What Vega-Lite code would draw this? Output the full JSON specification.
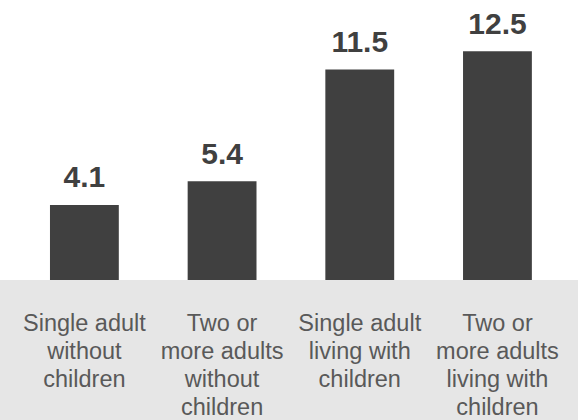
{
  "$schema": "https://vega.github.io/schema/vega-lite/v6.json",
  "width": 578,
  "height": 280,
  "autosize": {"type": "none"},
  "padding": {"left": 0, "top": 0, "right": 0, "bottom": 140},
  "background": "#e6e6e6",
  "config": {"view": {"fill": "white", "stroke": null}, "font": "Liberation Sans"},
  "data": {
    "values": [
      {"category": "Single adult|without|children", "value": 4.1},
      {"category": "Two or|more adults|without|children", "value": 5.4},
      {"category": "Single adult|living with|children", "value": 11.5},
      {"category": "Two or|more adults|living with|children", "value": 12.5}
    ]
  },
  "encoding": {
    "x": {
      "field": "category",
      "type": "nominal",
      "sort": null,
      "scale": {"paddingInner": 0.5, "paddingOuter": 0.349, "align": 0.52},
      "axis": {
        "title": null,
        "domain": false,
        "ticks": false,
        "grid": false,
        "labelAngle": 0,
        "labelExpr": "split(datum.label, '|')",
        "labelFont": "Liberation Sans",
        "labelFontSize": 23.5,
        "labelColor": "#595959",
        "labelLineHeight": 28.3,
        "labelPadding": 31,
        "labelBaseline": "top",
        "labelLimit": 200
      }
    },
    "y": {
      "field": "value",
      "type": "quantitative",
      "scale": {"domain": [0, 15.3]},
      "axis": null
    }
  },
  "layer": [
    {"mark": {"type": "bar", "color": "#404040"}},
    {
      "mark": {
        "type": "text",
        "font": "Liberation Sans",
        "fontWeight": "bold",
        "fontSize": 30,
        "color": "#404040",
        "baseline": "alphabetic",
        "dy": -17.5
      },
      "encoding": {"text": {"field": "value", "type": "quantitative", "format": ".1f"}}
    }
  ]
}
